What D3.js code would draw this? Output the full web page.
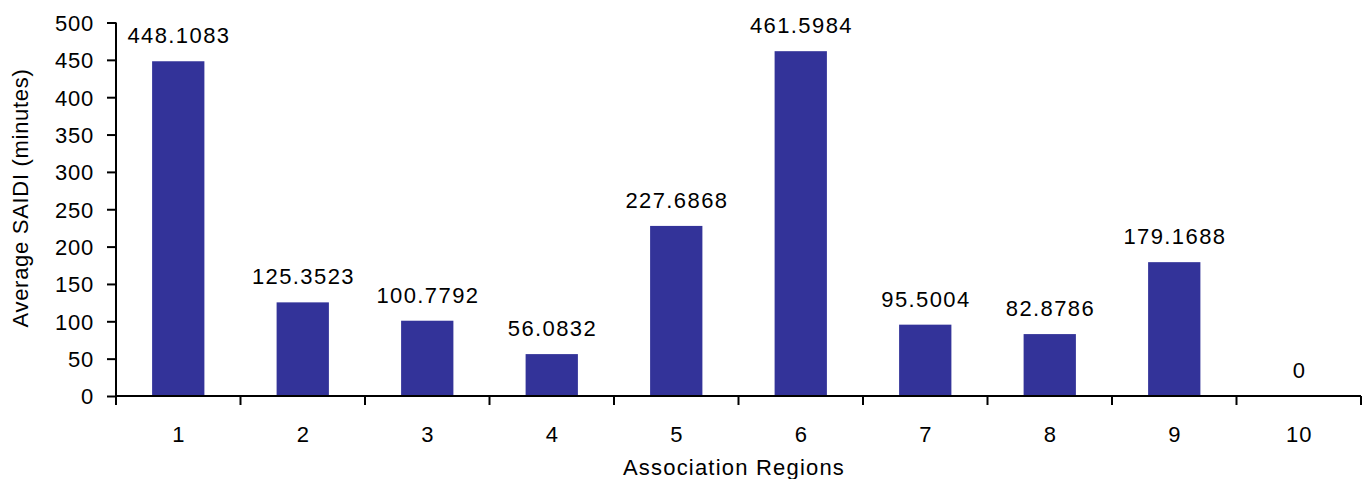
<!DOCTYPE html>
<head>
  <meta charset="utf-8" />
  <script src="https://d3js.org/d3.v7.min.js"></script>
  <style>
    body {
      margin: 0;
      background: #fff;
    }
    text {
      font-family: "Liberation Sans", Arial, sans-serif;
      fill: #000;
    }
  </style>
</head>

<body>
  <script>
    var regions = ["1", "2", "3", "4", "5", "6", "7", "8", "9", "10"];
    var saidi = [448.1083, 125.3523, 100.7792, 56.0832, 227.6868, 461.5984, 95.5004, 82.8786, 179.1688, 0];
    var valueLabels = ["448.1083", "125.3523", "100.7792", "56.0832", "227.6868", "461.5984", "95.5004", "82.8786", "179.1688", "0"];
    var yTicks = [0, 50, 100, 150, 200, 250, 300, 350, 400, 450, 500];

    var width = 1365, height = 479;
    var margin = { top: 22.5, right: 4, bottom: 83, left: 116 };
    var fs = "22px";

    var svg = d3
      .select("body")
      .append("svg")
      .attr("width", width)
      .attr("height", height);

    var x = d3
      .scaleBand()
      .domain(regions)
      .range([margin.left, width - margin.right])
      .paddingInner(0.58)
      .paddingOuter(0.29);

    var y = d3
      .scaleLinear()
      .domain([0, 500])
      .range([height - margin.bottom, margin.top]);

    // bars
    svg
      .append("g")
      .selectAll("rect")
      .data(saidi)
      .enter()
      .append("rect")
      .attr("x", (d, i) => x(regions[i]))
      .attr("y", d => y(d))
      .attr("width", x.bandwidth())
      .attr("height", d => y(0) - y(d))
      .attr("fill", "#333399");

    // value labels
    svg
      .append("g")
      .selectAll("text")
      .data(saidi)
      .enter()
      .append("text")
      .attr("x", (d, i) => x(regions[i]) + x.bandwidth() / 2 + 0.7)
      .attr("y", d => y(d) - 18)
      .attr("text-anchor", "middle")
      .style("font-size", fs)
      .style("letter-spacing", "1.4px")
      .text((d, i) => valueLabels[i]);

    // y axis
    var yAxis = svg
      .append("g")
      .attr("transform", "translate(" + margin.left + ",0)")
      .call(d3.axisLeft(y).tickValues(yTicks).tickSize(9).tickPadding(13));
    yAxis.select(".domain").attr("stroke-width", 2).attr("d", "M0," + y(500) + "V" + y(0));
    yAxis.selectAll(".tick line").attr("stroke-width", 2);
    yAxis
      .selectAll("text")
      .style("font-size", fs)
      .style("letter-spacing", "0.8px")
      .attr("dy", "0.36em");

    // x axis, ticks sit between categories
    var step = x.step();
    var xEdges = d3.range(regions.length + 1).map(i => margin.left + i * step);
    var xAxis = svg.append("g").attr("transform", "translate(0," + y(0) + ")");
    xAxis
      .append("line")
      .attr("x1", margin.left)
      .attr("x2", width - margin.right)
      .attr("stroke", "#000")
      .attr("stroke-width", 2);
    xAxis
      .selectAll(".xt")
      .data(xEdges)
      .enter()
      .append("line")
      .attr("x1", d => d)
      .attr("x2", d => d)
      .attr("y1", 0)
      .attr("y2", 9)
      .attr("stroke", "#000")
      .attr("stroke-width", 2);
    xAxis
      .selectAll(".xl")
      .data(regions)
      .enter()
      .append("text")
      .attr("x", d => x(d) + x.bandwidth() / 2 + 0.5)
      .attr("y", 46)
      .attr("text-anchor", "middle")
      .style("font-size", fs)
      .style("letter-spacing", "1px")
      .text(d => d);

    // axis titles
    svg
      .append("text")
      .attr("x", 734)
      .attr("y", 475)
      .attr("text-anchor", "middle")
      .style("font-size", fs)
      .style("letter-spacing", "1.2px")
      .text("Association Regions");

    svg
      .append("text")
      .attr("transform", "translate(28,198) rotate(-90)")
      .attr("text-anchor", "middle")
      .style("font-size", fs)
      .style("letter-spacing", "0.7px")
      .text("Average SAIDI (minutes)");
  </script>
</body>
